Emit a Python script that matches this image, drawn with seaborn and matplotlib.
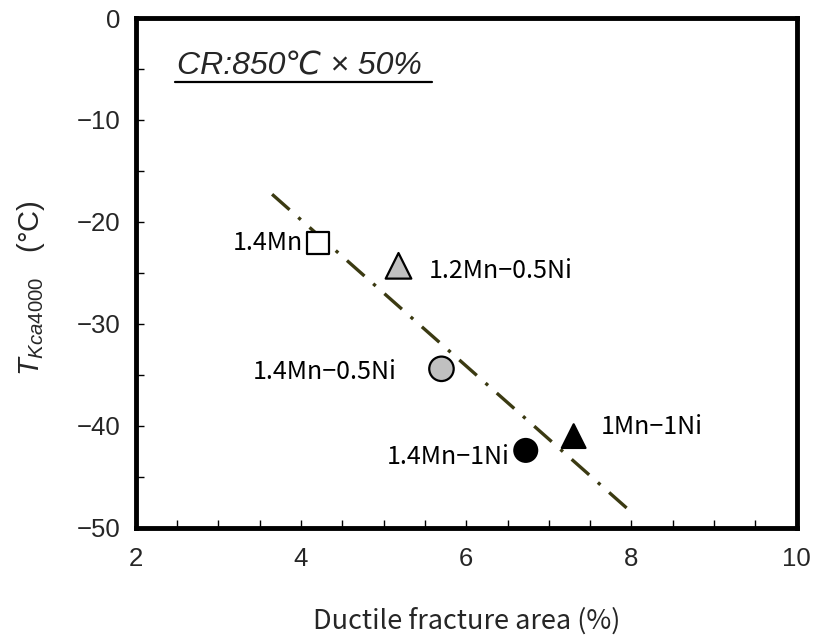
import numpy as np
import pandas as pd
import seaborn as sns
import matplotlib.pyplot as plt
from matplotlib.lines import Line2D
from matplotlib.ticker import MultipleLocator

# Steel grades and measured values
grades = ["1.4Mn", "1.2Mn\u22120.5Ni", "1.4Mn\u22120.5Ni", "1.4Mn\u22121Ni", "1Mn\u22121Ni"]
ductile_area = [4.20, 5.18, 5.70, 6.72, 7.30]       # %
t_kca4000 = [-22.1, -24.3, -34.4, -42.4, -41.0]     # degC

marker_map = {"1.4Mn": "s", "1.2Mn\u22120.5Ni": "^", "1.4Mn\u22120.5Ni": "o",
              "1.4Mn\u22121Ni": "o", "1Mn\u22121Ni": "^"}
face_map = {"1.4Mn": "white", "1.2Mn\u22120.5Ni": "#c0c0c0", "1.4Mn\u22120.5Ni": "#c0c0c0",
            "1.4Mn\u22121Ni": "black", "1Mn\u22121Ni": "black"}
size_map = {"1.4Mn": 250, "1.2Mn\u22120.5Ni": 340, "1.4Mn\u22120.5Ni": 310,
            "1.4Mn\u22121Ni": 270, "1Mn\u22121Ni": 290}

df = pd.DataFrame({"grade": grades, "area": ductile_area, "T": t_kca4000})

sns.set_theme(style="white")
plt.rcParams["font.family"] = ["Noto Sans CJK JP", "DejaVu Sans"]
plt.rcParams["mathtext.fontset"] = "custom"
plt.rcParams["mathtext.rm"] = "Liberation Sans"
plt.rcParams["mathtext.it"] = "Liberation Sans:italic"

fig = plt.figure(figsize=(8.13, 6.43), dpi=100)
ax = fig.add_axes([0.167, 0.179, 0.813, 0.793])

# Linear trend through the five grades
slope, intercept = np.polyfit(df["area"], df["T"], 1)
xs = np.array([3.65, 7.95])
sns.lineplot(x=xs, y=slope * xs + intercept, ax=ax, color="#3b3a12",
             lw=2.4, dashes=False, zorder=1)
ax.lines[-1].set_dashes((7, 3.5, 1, 3.5))

sns.scatterplot(data=df, x="area", y="T", hue="grade", palette=face_map,
                style="grade", markers=marker_map, size="grade", sizes=size_map,
                edgecolor="black", linewidth=1.6, legend=False, ax=ax, zorder=3)

# Grade labels beside each marker
label_offsets = {"1.4Mn": (-0.17, 0.05, "right"),
                 "1.2Mn\u22120.5Ni": (0.37, -0.5, "left"),
                 "1.4Mn\u22120.5Ni": (-0.54, -0.3, "right"),
                 "1.4Mn\u22121Ni": (-0.2, -0.6, "right"),
                 "1Mn\u22121Ni": (0.33, 0.9, "left")}
for g, xv, yv in zip(grades, ductile_area, t_kca4000):
    dx, dy, ha = label_offsets[g]
    ax.text(xv + dx, yv + dy, g, ha=ha, va="center", fontsize=18, color="black")

# Processing condition note, underlined
ax.text(0.063, 0.905, "CR:850\u2103 \u00d7 50%", transform=ax.transAxes,
        fontsize=23, style="italic", family=["Liberation Sans", "DejaVu Sans"],
        ha="left", va="center")
ax.add_line(Line2D([0.059, 0.448], [0.875, 0.875], transform=ax.transAxes,
                   color="black", lw=1.6))

ax.set_xlim(2, 10)
ax.set_ylim(-50, 0)
ax.xaxis.set_major_locator(MultipleLocator(2))
ax.xaxis.set_minor_locator(MultipleLocator(0.5))
ax.yaxis.set_major_locator(MultipleLocator(10))
ax.yaxis.set_minor_locator(MultipleLocator(5))
ax.tick_params(which="both", direction="in", length=6, width=1, color="black",
               bottom=True, left=True, top=False, right=False)
ax.tick_params(which="major", labelsize=18.5)
ax.tick_params(axis="x", which="major", pad=14)
ax.tick_params(axis="y", which="major", pad=11)
for lab in ax.get_xticklabels() + ax.get_yticklabels():
    lab.set_family(["Liberation Sans", "DejaVu Sans"])
for sp in ax.spines.values():
    sp.set_linewidth(3.5)
    sp.set_color("black")

ax.set_xlabel("Ductile fracture area (%)", fontsize=19.5, labelpad=26)
ax.set_ylabel("$T_{Kca4000}$   (°C)", fontsize=21,
              family=["Liberation Sans", "DejaVu Sans"])
ax.yaxis.set_label_coords(-0.135, 0.47)

fig.savefig("out.png", dpi=100)
